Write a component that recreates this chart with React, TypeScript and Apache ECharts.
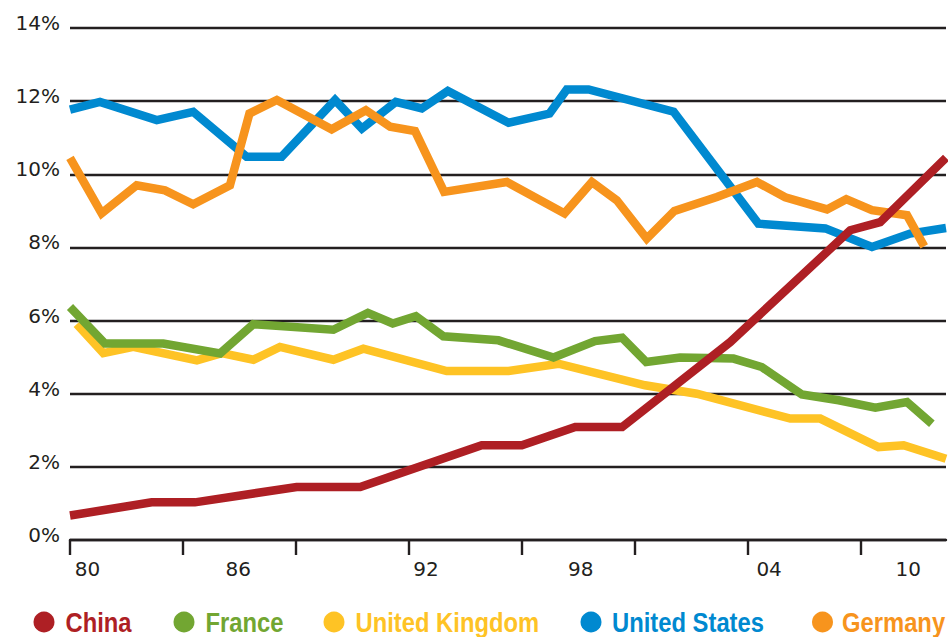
import React, { useEffect, useRef } from "react";
import * as echarts from "echarts";

const seriesNames = ["China", "France", "United Kingdom", "United States", "Germany"];
const seriesColors = ["#ae1f24", "#72a632", "#fec325", "#0089d0", "#f7941d"];

// [year, share %]
const china: [number, number][] = [
  [1980.0, 0.67], [1982.89, 1.03], [1984.42, 1.03], [1988.02, 1.45], [1990.27, 1.45],
  [1994.57, 2.59], [1995.99, 2.59], [1997.88, 3.09], [1999.54, 3.09], [2003.36, 5.41],
  [2007.61, 8.47], [2008.67, 8.69], [2011.0, 10.45],
];
const france: [number, number][] = [
  [1980.0, 6.37], [1981.24, 5.37], [1983.3, 5.37], [1985.31, 5.1], [1986.49, 5.9],
  [1989.32, 5.75], [1990.54, 6.21], [1991.42, 5.92], [1992.24, 6.12], [1993.21, 5.57],
  [1995.16, 5.46], [1997.11, 4.99], [1998.58, 5.44], [1999.54, 5.53], [2000.39, 4.87],
  [2001.59, 4.99], [2003.48, 4.96], [2004.48, 4.73], [2005.9, 3.98], [2007.2, 3.82],
  [2008.5, 3.62], [2009.62, 3.77], [2010.5, 3.18],
];
const unitedKingdom: [number, number][] = [
  [1980.24, 5.9], [1981.18, 5.11], [1982.24, 5.28], [1984.49, 4.91], [1985.37, 5.11],
  [1986.49, 4.93], [1987.43, 5.28], [1989.32, 4.93], [1990.38, 5.23], [1993.33, 4.62],
  [1995.52, 4.62], [1997.29, 4.82], [2000.35, 4.23], [2002.18, 4.0], [2005.49, 3.32],
  [2006.55, 3.32], [2008.61, 2.54], [2009.5, 2.59], [2011.0, 2.22],
];
const unitedStates: [number, number][] = [
  [1980.0, 11.77], [1981.06, 11.98], [1983.07, 11.48], [1984.36, 11.71], [1986.25, 10.48],
  [1987.49, 10.48], [1989.38, 12.03], [1990.33, 11.25], [1991.53, 11.98], [1992.45, 11.8],
  [1993.37, 12.28], [1995.52, 11.41], [1996.97, 11.66], [1997.58, 12.32], [1998.35, 12.32],
  [2001.36, 11.71], [2004.36, 8.65], [2006.73, 8.52], [2008.38, 8.01], [2009.73, 8.38],
  [2011.0, 8.53],
];
const germany: [number, number][] = [
  [1980.0, 10.45], [1981.12, 8.93], [1982.36, 9.7], [1983.36, 9.56], [1984.36, 9.18],
  [1985.66, 9.7], [1986.35, 11.66], [1987.32, 12.03], [1989.26, 11.23], [1990.47, 11.75],
  [1991.33, 11.3], [1992.21, 11.18], [1993.24, 9.52], [1995.46, 9.79], [1997.5, 8.93],
  [1998.47, 9.79], [1999.35, 9.29], [2000.41, 8.24], [2001.39, 9.0], [2002.89, 9.38],
  [2004.31, 9.79], [2005.31, 9.37], [2006.79, 9.04], [2007.47, 9.32], [2008.38, 9.02],
  [2009.62, 8.88], [2010.23, 8.03],
];

const xTickYears = [1980, 1984, 1988, 1992, 1996, 2000, 2004, 2008];
const xLabelYears = [1980.62, 1985.95, 1992.6, 1998.07, 2004.74, 2009.66];
const xLabelTexts = ["80", "86", "92", "98", "04", "10"];

// legend layout (pixels)
const legendCircleX = [44, 184, 334, 591, 822.5];
const legendTextX = [65.5, 205.5, 355.5, 612, 842];
const legendY = 622;

const ink = "#231f20";

export default function App() {
  const ref = useRef<HTMLDivElement>(null);
  useEffect(() => {
    if (!ref.current) return;
    const chart = echarts.init(ref.current, undefined, { renderer: "svg" });
    const dataSets = [china, france, unitedKingdom, unitedStates, germany];
    // draw order (bottom to top): UK, France, US, Germany, China
    const drawOrder = [2, 1, 3, 4, 0];
    const legendGraphics: any[] = [];
    seriesNames.forEach((n, i) => {
      legendGraphics.push({
        type: "circle",
        shape: { cx: legendCircleX[i], cy: legendY, r: 10.5 },
        style: { fill: seriesColors[i] },
        silent: true,
      });
      legendGraphics.push({
        type: "text",
        x: legendTextX[i],
        y: legendY,
        scaleX: 0.85,
        style: {
          text: n,
          fill: seriesColors[i],
          font: "bold 28px 'Liberation Sans', Arial, sans-serif",
          textVerticalAlign: "middle",
          verticalAlign: "middle",
          align: "left",
        },
        silent: true,
      });
    });
    chart.setOption({
      animation: false,
      grid: { left: 70, right: 2, top: 28, bottom: 97, containLabel: false },
      xAxis: {
        type: "value",
        min: 1980,
        max: 2011,
        axisLine: { show: true, lineStyle: { color: ink, width: 2.4 } },
        axisTick: { show: true, customValues: xTickYears, length: 15, lineStyle: { color: ink, width: 2.4 } },
        axisLabel: {
          customValues: xLabelYears,
          formatter: (v: number) => {
            const i = xLabelYears.findIndex((p) => Math.abs(p - v) < 1e-6);
            return i >= 0 ? xLabelTexts[i] : "";
          },
          fontSize: 20,
          fontFamily: "DejaVu Sans",
          color: ink,
          margin: 29,
          verticalAlign: "middle",
        },
        splitLine: { show: false },
      },
      yAxis: {
        type: "value",
        min: 0,
        max: 14,
        interval: 2,
        axisLine: { show: false },
        axisTick: { show: false },
        axisLabel: {
          formatter: "{value}%",
          fontSize: 20,
          fontFamily: "DejaVu Sans",
          color: ink,
          margin: 10,
          verticalAlign: "bottom",
          lineHeight: 10,
        },
        splitLine: { show: true, lineStyle: { color: ink, width: 2.4 } },
      },
      graphic: legendGraphics,
      series: drawOrder.map((i) => ({
        name: seriesNames[i],
        type: "line",
        data: dataSets[i],
        showSymbol: false,
        symbol: "none",
        color: seriesColors[i],
        itemStyle: { color: seriesColors[i] },
        lineStyle: { color: seriesColors[i], width: 8.5, join: "miter", cap: "butt" },
        z: 2,
      })),
    });
    return () => chart.dispose();
  }, []);
  return (
    <div
      ref={ref}
      style={{ position: "fixed", left: 0, top: 0, width: 948, height: 637, background: "#fff" }}
    />
  );
}
